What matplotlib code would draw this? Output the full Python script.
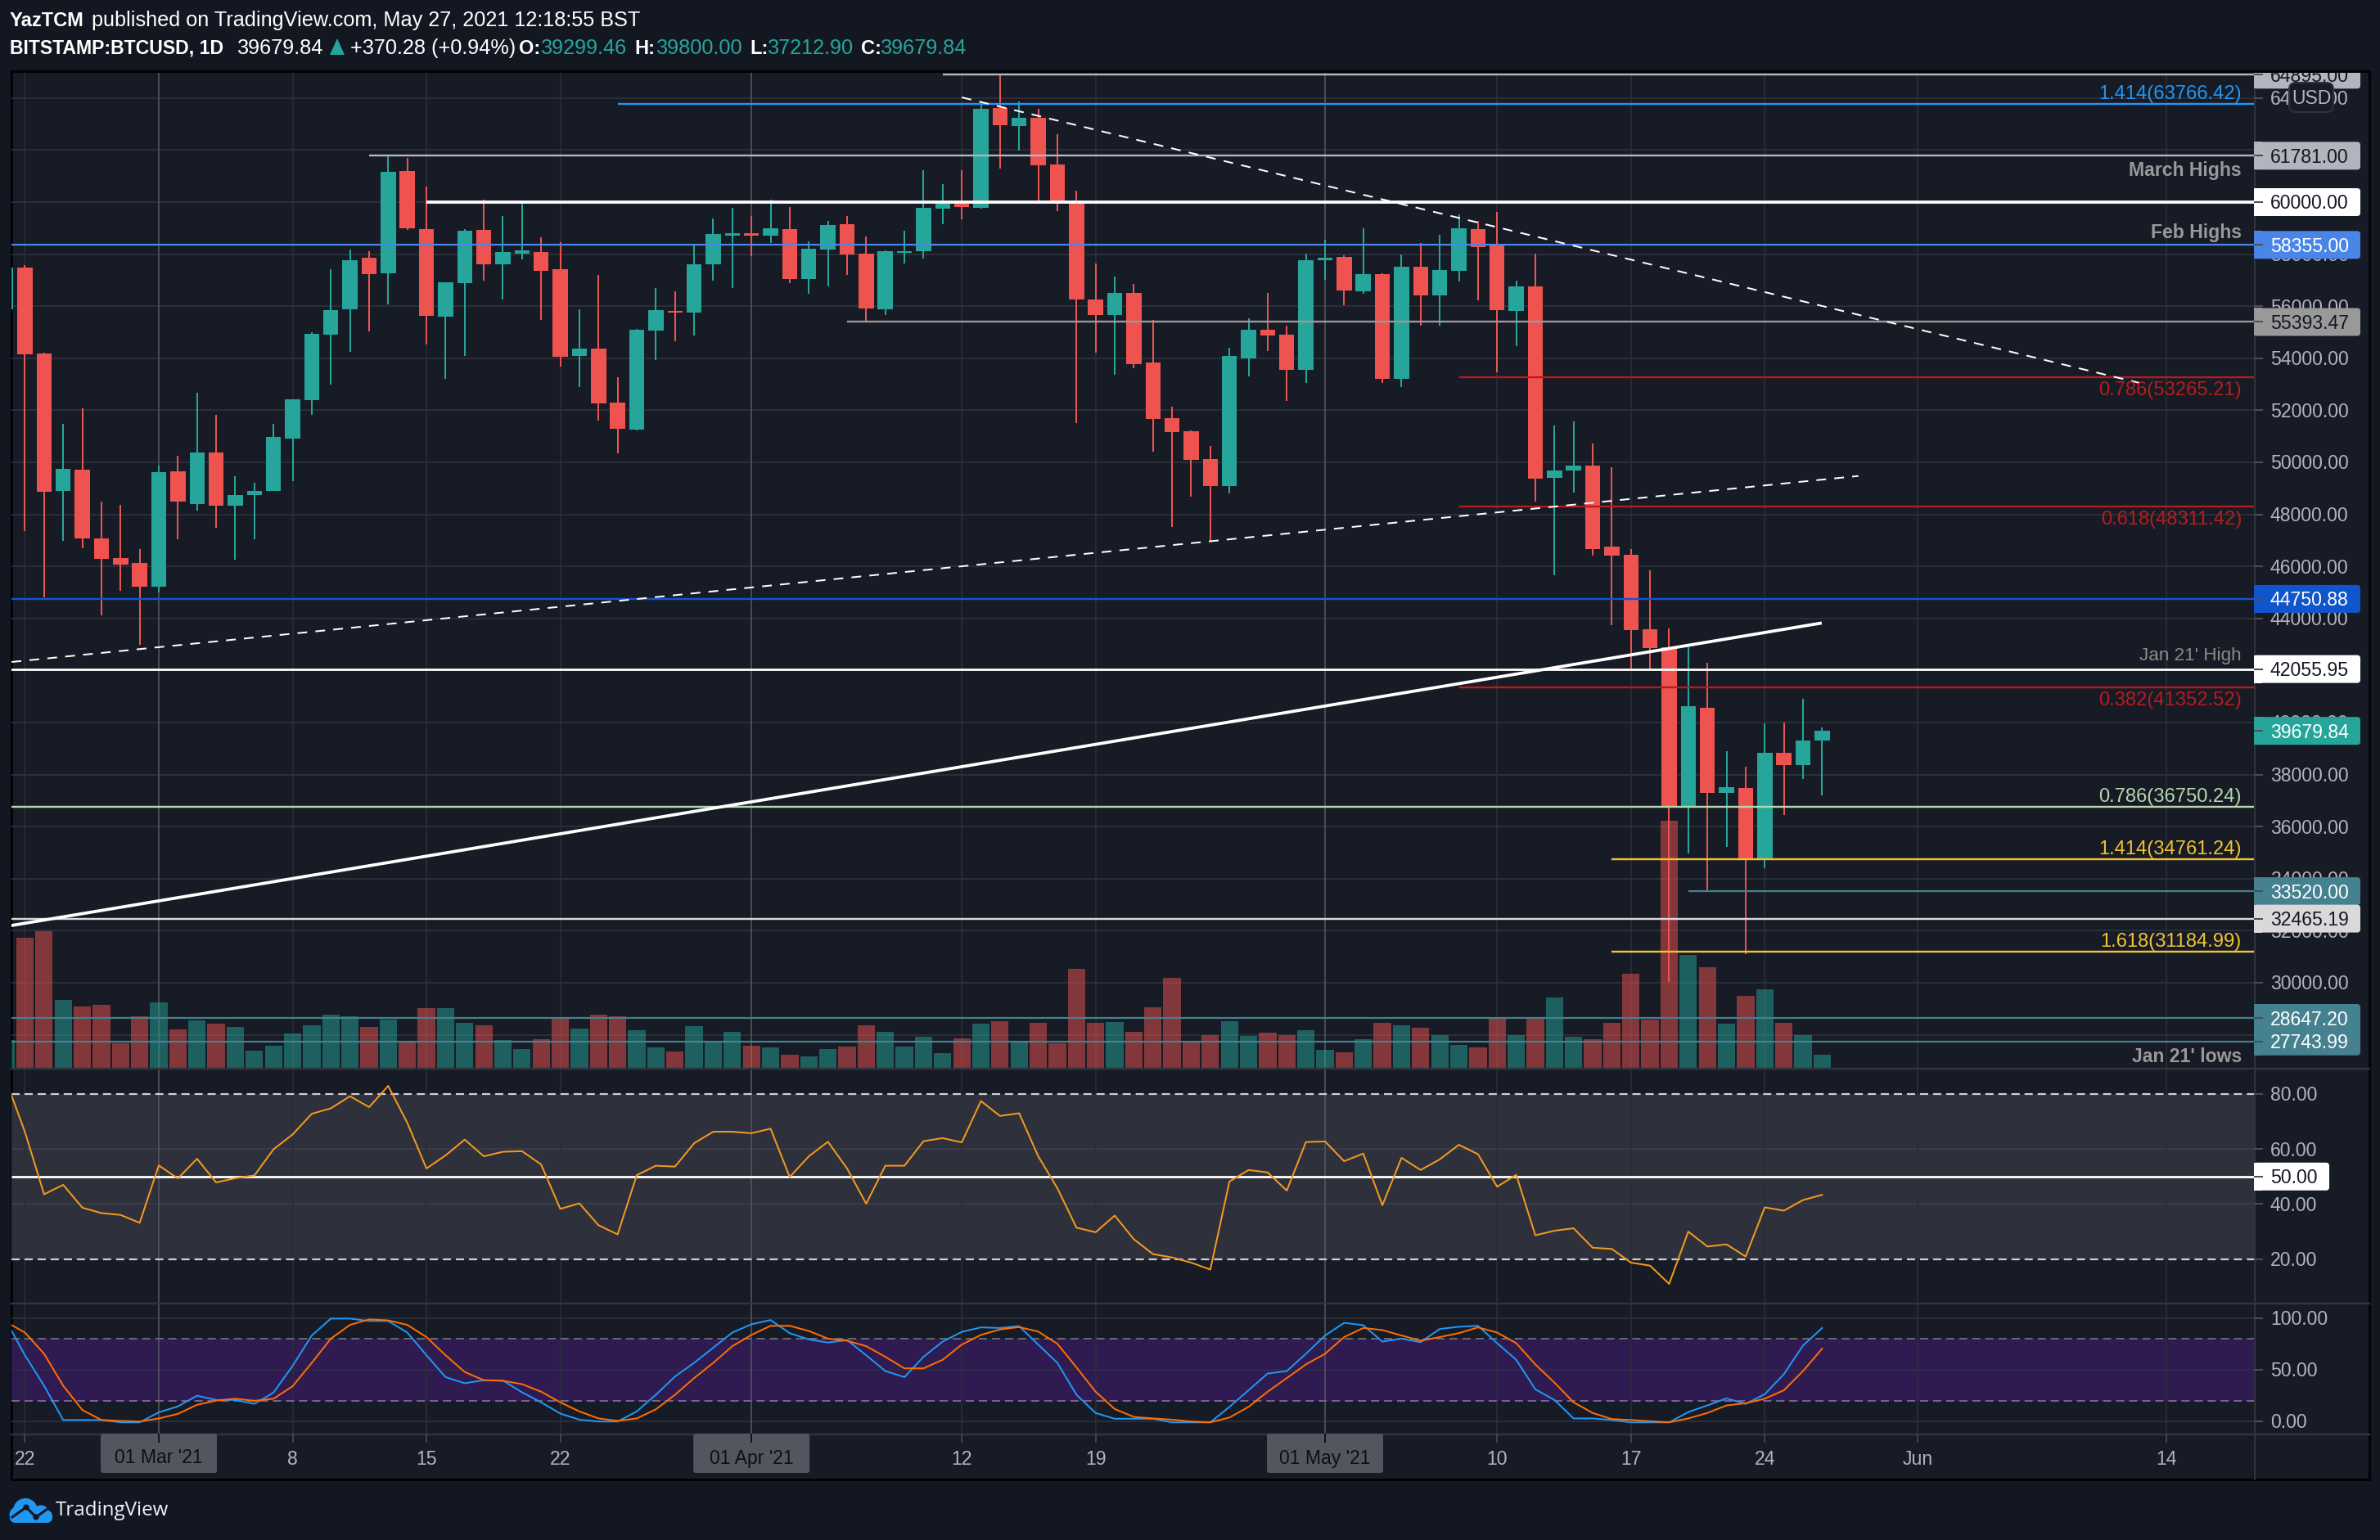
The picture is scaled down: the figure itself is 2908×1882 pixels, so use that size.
import numpy as np
import matplotlib
matplotlib.use("Agg")
import matplotlib.pyplot as plt
from matplotlib.patches import Rectangle, FancyBboxPatch, Polygon, Ellipse, Circle

plt.rcParams['font.family'] = ['Liberation Sans', 'DejaVu Sans']
plt.rcParams['lines.scale_dashes'] = False

# days are counted from 22 Feb 2021
days = np.arange(-1, 95)

opens = [55872, 57487, 54173, 48894, 49709, 47069, 46311, 46128, 45220, 49652, 48389, 50369, 48333, 48740, 48894, 50902,
         52390, 54903, 55872, 57852, 57262, 61193, 58961, 55591, 56883, 58933, 57599, 58020, 58076, 57416, 54089, 54370,
         52292, 51253, 55058, 55816, 55746, 57599, 58708, 58807, 58708, 58961, 57037, 58175, 59143, 58020, 55872, 58048,
         58105, 59747, 59944, 59775, 63608, 62920, 63229, 61446, 59972, 56251, 55662, 56504, 53836, 51688, 51197, 50116,
         49077, 53991, 55086, 54903, 53556, 57768, 57894, 56574, 57234, 53219, 57515, 56420, 57360, 58961, 58329, 55816,
         56757, 49400, 49681, 49863, 46760, 46437, 43580, 42896, 36781, 40572, 37303, 37489, 34754, 38844, 38371, 39299.46]
highs = [57600, 57571, 54215, 51478, 52067, 48487, 48361, 46662, 49863, 50242, 52671, 51815, 49456, 49203, 51478, 52418,
         54988, 57416, 58175, 58105, 61769, 61699, 60590, 56925, 58961, 60084, 59466, 59944, 58638, 58456, 55872, 57192,
         53261, 55114, 56700, 56574, 58357, 59382, 59789, 59480, 60084, 59803, 58498, 59270, 59480, 58680, 58147, 58891,
         61221, 60688, 61221, 63833, 64886, 63861, 63580, 62611, 60435, 57641, 57136, 56855, 55479, 52138, 51225, 50621,
         54398, 55535, 56504, 55240, 58020, 58554, 57964, 58989, 57276, 57978, 58428, 58736, 59537, 59284, 59621, 56981,
         58020, 51407, 51562, 50719, 49807, 46662, 45862, 43617, 42896, 42299, 38906, 38309, 39975, 40000, 40920, 39800]
lows = [55700, 47364, 44823, 46985, 46704, 44127, 45047, 42996, 45009, 47041, 48136, 47476, 46255, 47041, 48894, 49288,
        51815, 52980, 54244, 55016, 56069, 58933, 54538, 53219, 54103, 56981, 56251, 57796, 55479, 53682, 52882, 51604,
        50355, 51225, 53935, 54665, 54889, 56981, 56700, 57936, 58428, 56883, 56462, 56771, 57192, 55437, 55662, 57655,
        57824, 59143, 59340, 59747, 61292, 61980, 60042, 59649, 51506, 54215, 53359, 53612, 50411, 47504, 48669, 46957,
        48810, 53303, 54286, 52348, 53050, 57023, 56027, 56490, 53050, 52882, 55240, 55240, 56953, 56237, 53471, 54454,
        48487, 45656, 48838, 46409, 43741, 42051, 42001, 30031, 34978, 33536, 35227, 31087, 34406, 36457, 37837, 37212.90]
closes = [57487, 54145, 48866, 49737, 47083, 46283, 46059, 45220, 49624, 48487, 50369, 48333, 48740, 48894, 50972, 52418,
          54931, 55844, 57768, 57234, 61165, 58989, 55619, 56925, 58891, 57599, 58076, 58147, 57360, 54047, 54370, 52264,
          51281, 55086, 55844, 55746, 57599, 58764, 58807, 58708, 58989, 57037, 58203, 59115, 57978, 55914, 58105, 58105,
          59775, 59944, 59803, 63580, 62948, 63229, 61418, 60000, 56251, 55662, 56504, 53766, 51660, 51155, 50088, 49077,
          54089, 55086, 54875, 53556, 57768, 57852, 56602, 57234, 53219, 57515, 56420, 57388, 58989, 58273, 55858, 56757,
          49372, 49681, 49863, 46662, 46409, 43555, 42859, 36781, 40634, 37303, 37514, 34705, 38844, 38371, 39316, 39679.84]
volumes = [86, 402, 422, 210, 190, 195, 77, 159, 202, 119, 147, 137, 126, 53, 68, 106,
           131, 164, 159, 126, 149, 80, 185, 185, 139, 131, 86, 58, 88, 154, 121, 164,
           159, 116, 63, 51, 129, 83, 111, 68, 63, 40, 35, 58, 66, 131, 111, 66,
           96, 45, 91, 137, 144, 83, 139, 77, 306, 139, 142, 111, 187, 278, 78, 101,
           144, 99, 109, 101, 116, 56, 48, 88, 139, 131, 124, 101, 71, 63, 152, 101,
           152, 217, 96, 88, 139, 291, 149, 766, 349, 311, 137, 222, 243, 139, 101, 40]
rsi = [85.0, 66.13, 43.56, 46.97, 38.71, 36.73, 36.07, 33.21, 54.02, 49.28, 56.44, 47.85, 49.39, 50.38, 59.85, 65.25,
       72.73, 74.72, 79.12, 75.16, 82.86, 69.43, 52.92, 57.65, 63.38, 57.32, 58.97, 59.19, 54.35, 38.27, 40.25, 32.33,
       29.02, 50.49, 53.91, 53.58, 62.05, 66.24, 66.24, 65.69, 67.34, 49.83, 57.32, 62.60, 52.92, 40.14, 53.91, 53.91,
       62.82, 63.92, 62.38, 77.36, 71.96, 72.95, 57.32, 45.76, 31.45, 29.79, 35.85, 27.26, 21.87, 20.66, 18.78, 16.25,
       48.18, 52.36, 51.48, 44.88, 62.49, 62.71, 55.56, 58.31, 39.59, 56.77, 52.36, 56.22, 61.50, 58.09, 46.31, 50.60,
       28.69, 30.34, 31.23, 24.18, 23.74, 18.78, 17.68, 11.08, 30.01, 24.62, 25.39, 20.99, 38.82, 37.61, 41.47, 43.34]
stoch_k = [97.7, 63.9, 34.4, 1.2, 1.2, 1.2, -1.1, -1.1, 8.6, 14.4, 24.7, 20.6, 20.6, 16.8, 27.7, 53.6,
           83.0, 99.4, 99.4, 97.1, 97.1, 85.9, 63.9, 42.7, 36.8, 39.7, 39.4, 28.0, 18.3, 7.4, 1.5, -0.3,
           -0.3, 9.5, 25.6, 43.3, 56.5, 71.2, 85.9, 93.9, 98.0, 85.3, 79.2, 76.2, 78.6, 63.9, 48.6, 42.7,
           62.4, 77.1, 86.5, 90.9, 90.3, 92.1, 74.2, 56.5, 25.6, 8.0, 2.4, 2.4, 2.4, -1.1, -1.1, -1.1,
           13.9, 30.0, 46.2, 48.6, 65.3, 83.0, 95.3, 93.0, 77.1, 80.0, 76.5, 89.4, 91.5, 92.4, 75.6, 59.5,
           30.9, 20.6, 2.7, 2.7, 1.2, -1.1, -1.1, -1.1, 8.9, 15.3, 22.1, 16.8, 26.2, 45.6, 73.3, 90.3]
stoch_d = [96.2, 85.9, 65.3, 34.4, 10.9, 1.2, 0.3, -0.3, 2.7, 7.1, 15.9, 20.0, 21.8, 19.8, 21.8, 33.9,
           56.5, 80.0, 93.3, 98.6, 97.7, 93.3, 81.5, 63.9, 47.7, 39.7, 39.2, 35.9, 28.6, 18.3, 9.5, 2.7,
           0.3, 2.7, 11.5, 25.6, 41.8, 56.5, 72.7, 83.6, 92.4, 92.4, 87.4, 80.0, 78.0, 72.7, 62.4, 51.2,
           51.2, 59.5, 74.2, 83.6, 88.9, 91.2, 86.8, 75.0, 52.1, 28.6, 11.8, 4.2, 2.7, 1.5, -0.3, -1.1,
           3.6, 13.9, 28.6, 41.8, 55.0, 65.3, 81.5, 90.3, 88.3, 83.0, 78.0, 81.5, 85.3, 90.9, 85.9, 75.6,
           55.0, 37.4, 18.3, 8.0, 2.1, 1.2, 0.0, -1.1, 2.7, 8.0, 15.3, 17.4, 21.8, 30.0, 48.6, 70.3]

# horizontal levels: price, first day, colour, width in px
level_prices = [64895, 63766.42, 61781, 60000, 58355, 55393.47, 53265.21, 48311.42, 44750.88, 42055.95, 41352.52,
                36750.24, 34761.24, 33520, 32465.19, 31184.99, 28647.20, 27743.99]
level_starts = [48, 31, 18, 21, -1, 43, 75, 75, -1, -1, 75, -1, 83, 87, -1, 83, -1, -1]
level_colors = ['#b2b5be', '#2196f3', '#b2b5be', '#ffffff', '#4a86e8', '#999999', '#b71c1c', '#b71c1c', '#1155cc',
                '#ffffff', '#b71c1c', '#b6d7a8', '#f1c232', '#45818e', '#d9d9d9', '#f1c232', '#45818e', '#45818e']
level_widths = [2.4, 2.4, 2.4, 3.8, 2.2, 2.4, 2.4, 2.4, 2.4, 2.8, 2.4, 2.4, 2.4, 2.2, 2.4, 2.4, 2.2, 2.2]

# boxes on the price scale
box_values = [64895, 61781, 60000, 58355, 55393.47, 44750.88, 42055.95, 39679.84, 33520, 32465.19, 28647.20, 27743.99]
box_labels = ['64895.00', '61781.00', '60000.00', '58355.00', '55393.47', '44750.88', '42055.95', '39679.84',
              '33520.00', '32465.19', '28647.20', '27743.99']
box_colors = ['#b2b5be', '#b2b5be', '#ffffff', '#4a86e8', '#999999', '#1155cc', '#ffffff', '#26a69a',
              '#45818e', '#d9d9d9', '#45818e', '#45818e']
box_text = ['#131722', '#131722', '#131722', '#ffffff', '#131722', '#ffffff', '#131722', '#ffffff',
            '#ffffff', '#131722', '#ffffff', '#ffffff']

# notes inside the price pane: text, pixel row, colour, bold
note_labels = ['1.414(63766.42)', 'March Highs', 'Feb Highs', '0.786(53265.21)', '0.618(48311.42)', "Jan 21' High",
               '0.382(41352.52)', '0.786(36750.24)', '1.414(34761.24)', '1.618(31184.99)', "Jan 21' lows"]
note_rows = [114, 207, 283, 476, 634, 801, 855, 973, 1037, 1150, 1290]
note_colors = ['#2196f3', '#999999', '#999999', '#b71c1c', '#b71c1c', '#8a8a8a', '#b71c1c', '#b6d7a8', '#f1c232',
               '#f1c232', '#999999']
note_bold = [False, True, True, False, False, False, False, False, False, False, True]
note_sizes = [17.1, 16.6, 16.6, 17.1, 17.1, 16.2, 17.1, 17.1, 17.1, 17.1, 16.6]

fall_line_days = [49.0, 110.6]
fall_line_prices = [64025, 53050]
dash_rise_days = [-0.7, 95.9]
dash_rise_prices = [42327, 49475]
thick_rise_days = [-0.7, 93.9]
thick_rise_prices = [32201, 43815]

price_ticks = list(range(64000, 27000, -2000))
rsi_ticks = [80, 60, 40, 20]
stoch_ticks = [100, 50, 0]
time_days = [0, 14, 21, 28, 49, 56, 77, 84, 91, 99, 112]
time_labels = ['22', '8', '15', '22', '12', '19', '10', '17', '24', 'Jun', '14']
month_days = [7, 38, 68]
month_labels = ["01 Mar '21", "01 Apr '21", "01 May '21"]

W, H = 2908, 1882
OUTER = '#131722'
PANEL = '#171b26'
GRID = '#2a2e39'
UP = '#26a69a'
DOWN = '#ef5350'
TICK = '#b2b5be'
LEFT, RIGHT, EDGE = 14, 2755, 2895
TOP, MAIN_B, RSI_B, STOCH_B, BOTTOM = 87, 1306, 1593, 1753, 1808
XLIM = (-0.706, 116.63)
FS = 16.6
HEAD_FS = 18.2
HEAD_BOLD_FS = 17.0


def pane(top, bottom, zorder=2):
    a = fig.add_axes([LEFT / W, 1 - bottom / H, (RIGHT - LEFT) / W, (bottom - top) / H], zorder=zorder)
    a.set_xlim(*XLIM)
    a.patch.set_visible(False)
    a.axis('off')
    return a


def px(v):
    # v is in points on screen, the lines are sized in pixels
    return v * 0.72


fig = plt.figure(figsize=(W / 100, H / 100), dpi=100, facecolor=OUTER)

# pixel layer below everything: the panel and its frame
base = fig.add_axes([0, 0, 1, 1], zorder=0)
base.set_xlim(0, W)
base.set_ylim(H, 0)
base.axis('off')
base.add_patch(Rectangle((LEFT, TOP), EDGE - LEFT, BOTTOM - TOP, fc=PANEL, ec='#020305', lw=px(3)))

ax_price = pane(TOP, MAIN_B, 2)
ax_price.set_ylim(26698, 65031)
ax_vol = pane(TOP, MAIN_B, 3)
ax_vol.set_ylim(-2, 3083)
ax_lines = pane(TOP, MAIN_B, 4)
ax_lines.set_ylim(26698, 65031)
ax_rsi = pane(MAIN_B, RSI_B, 2)
ax_rsi.set_ylim(3.95, 89.1)
ax_stoch = pane(RSI_B, STOCH_B, 2)
ax_stoch.set_ylim(-12.8, 114.0)

# grid
ax_price.hlines(price_ticks, *XLIM, color=GRID, lw=px(2), zorder=0)
ax_rsi.axhspan(20, 80, color='#2e313c', lw=0, zorder=0)
ax_rsi.hlines([60, 40], *XLIM, color='#3a3d48', lw=px(2), zorder=1)
ax_stoch.axhspan(20, 80, color='#2f1b52', lw=0, zorder=0)
ax_stoch.hlines(stoch_ticks, *XLIM, color=GRID, lw=px(2), zorder=1)
for a in (ax_price, ax_rsi, ax_stoch):
    a.vlines(time_days, 0, 1, transform=a.get_xaxis_transform(), color='#2a2e39', lw=px(1.6), zorder=1)
    a.vlines(month_days, 0, 1, transform=a.get_xaxis_transform(), color='#54575f', lw=px(1.6), zorder=1)

# candles and volume
is_up = np.array(closes) >= np.array(opens)
candle_colors = [UP if u else DOWN for u in is_up]
ax_price.vlines(days, lows, highs, color=candle_colors, lw=px(2), zorder=2)
ax_price.bar(days, np.abs(np.array(closes) - np.array(opens)), bottom=np.minimum(opens, closes), width=0.79,
             color=candle_colors, lw=0, zorder=3)
ax_vol.bar(days, volumes, width=0.91, color=candle_colors, alpha=0.5, lw=0)

# levels and trend lines
for price, start, color, width in zip(level_prices, level_starts, level_colors, level_widths):
    ax_lines.hlines(price, start, XLIM[1], color=color, lw=px(width), zorder=2)
ax_lines.plot(fall_line_days, fall_line_prices, color='white', lw=px(2), ls=(0, (8.6, 7.2)), zorder=3)
ax_lines.plot(dash_rise_days, dash_rise_prices, color='white', lw=px(2), ls=(0, (8.6, 7.2)), zorder=3)
ax_lines.plot(thick_rise_days, thick_rise_prices, color='white', lw=px(3.8), zorder=3)

# RSI
ax_rsi.plot(days, rsi, color='#f5991f', lw=px(2), zorder=4)
ax_rsi.hlines([80, 20], *XLIM, color='#d0d0d0', lw=px(2.2), ls=(0, (7.2, 4.3)), zorder=3)
ax_rsi.hlines(50, *XLIM, color='white', lw=px(2.8), zorder=3)

# stochastic
ax_stoch.hlines(80, *XLIM, color='#68686f', lw=px(2), ls=(0, (7.2, 4.3)), zorder=3)
ax_stoch.hlines(20, *XLIM, color='#77608f', lw=px(2), ls=(0, (7.2, 4.3)), zorder=3)
ax_stoch.plot(days, stoch_k, color='#2196f3', lw=px(2), zorder=4)
ax_stoch.plot(days, stoch_d, color='#ff6d00', lw=px(2), zorder=5)

# pixel layer above everything: scales, labels, header
top = fig.add_axes([0, 0, 1, 1], zorder=10)
top.set_xlim(0, W)
top.set_ylim(H, 0)
top.axis('off')


def row(a, value):
    return H - a.transData.transform((0, value))[1]


def col(day):
    return ax_price.transData.transform((day, 0))[0]


def scale_box(y, width, color):
    # rounded on the right, square against the scale border
    top.add_patch(FancyBboxPatch((RIGHT - 1, y - 17), width, 34, boxstyle='round,pad=0,rounding_size=4',
                                 fc=color, ec='none', zorder=3))
    top.add_patch(Rectangle((RIGHT - 1, y - 17), 10, 34, fc=color, ec='none', zorder=3))
    top.plot([RIGHT, RIGHT + 9], [y, y], color='#4a4e59', lw=px(2), zorder=4)


# pane separators and the price scale border
for y in (MAIN_B, RSI_B, STOCH_B):
    top.plot([LEFT, EDGE], [y, y], color='#30343f', lw=px(2.5), zorder=1)
top.plot([RIGHT, RIGHT], [TOP, BOTTOM], color='#30343f', lw=px(2), zorder=1)

# scale ticks
for a, ticks in ((ax_price, price_ticks), (ax_rsi, rsi_ticks), (ax_stoch, stoch_ticks)):
    for value in ticks:
        y = row(a, value)
        top.plot([RIGHT, RIGHT + 9], [y, y], color='#4a4e59', lw=px(2), zorder=1)
        top.text(2774, y + 2, '%.2f' % value, color=TICK, fontsize=FS, va='center', zorder=2)

# boxes on the price scale
for value, label, color, tcolor in zip(box_values, box_labels, box_colors, box_text):
    y = row(ax_price, value)
    scale_box(y, 130, color)
    top.text(2774, y + 2, label, color=tcolor, fontsize=FS, va='center', zorder=4)
y = row(ax_rsi, 50)
scale_box(y, 92, 'white')
top.text(2774, y + 2, '50.00', color='#131722', fontsize=FS, va='center', zorder=4)

# keep the clipped top label inside the pane
top.add_patch(Rectangle((RIGHT - 2, 60), EDGE - RIGHT + 14, TOP - 60, fc=OUTER, ec='none', zorder=5))
top.plot([LEFT, EDGE], [TOP, TOP], color='#020305', lw=px(3), zorder=6)
top.add_patch(FancyBboxPatch((2797, 101), 54, 36, boxstyle='round,pad=0,rounding_size=8',
                             fc='#171b26', ec='#2f333e', lw=px(2), zorder=6))
top.text(2824, 120, 'USD', color='#b2b5be', fontsize=FS, ha='center', va='center', zorder=7)

# notes
for label, y, color, bold, size in zip(note_labels, note_rows, note_colors, note_bold, note_sizes):
    top.text(2739, y + 1, label, color=color, fontsize=size, ha='right', va='center',
             fontweight='bold' if bold else 'normal', zorder=2)

# time scale
for day, label in zip(time_days, time_labels):
    x = col(day)
    top.plot([x, x], [STOCH_B, STOCH_B + 9], color='#4a4e59', lw=px(1.6), zorder=1)
    top.text(x, 1783, label, color=TICK, fontsize=FS, ha='center', va='center', zorder=2)
for day, label in zip(month_days, month_labels):
    x = col(day)
    top.add_patch(FancyBboxPatch((x - 71, STOCH_B - 1), 142, 48, boxstyle='round,pad=0,rounding_size=3',
                                 fc='#53565e', ec='none', zorder=3))
    top.plot([x, x], [STOCH_B, STOCH_B + 9], color='#111111', lw=px(2), zorder=4)
    top.text(x, 1782, label, color='#0d0f14', fontsize=FS, ha='center', va='center', zorder=4)

# header
top.text(12, 25, 'YazTCM', color='white', fontsize=HEAD_BOLD_FS, fontweight='bold', va='center')
top.text(112, 25, 'published on TradingView.com, May 27, 2021 12:18:55 BST', color='white', fontsize=HEAD_FS,
         va='center')
top.text(12, 59, 'BITSTAMP:BTCUSD, 1D', color='white', fontsize=HEAD_BOLD_FS - 0.4, fontweight='bold', va='center')
top.text(290, 59, '39679.84', color='white', fontsize=HEAD_FS, va='center')
top.add_patch(Polygon([[403, 67], [412, 47], [421, 67]], fc=UP, ec='none'))
top.text(428, 59, '+370.28 (+0.94%)', color='white', fontsize=HEAD_FS, va='center')
for x, label in zip([634, 775, 916, 1052], ['O:', 'H:', 'L:', 'C:']):
    top.text(x, 59, label, color='white', fontsize=HEAD_BOLD_FS, fontweight='bold', va='center')
for x, label in zip([661, 802, 938, 1076], ['39299.46', '39800.00', '37212.90', '39679.84']):
    top.text(x, 59, label, color=UP, fontsize=HEAD_FS, va='center')

# logo and footer
logo_blue = '#2196f3'
top.add_patch(FancyBboxPatch((12, 1846), 52, 15, boxstyle='round,pad=0,rounding_size=7', fc=logo_blue, ec='none'))
top.add_patch(Circle((31, 1846), 15, fc=logo_blue, ec='none'))
top.add_patch(Circle((50, 1850), 10.5, fc=logo_blue, ec='none'))
top.add_patch(Circle((21, 1851), 9.5, fc=logo_blue, ec='none'))
top.plot([15, 32, 44, 62], [1854, 1842, 1854, 1841], color=OUTER, lw=px(3))
top.add_patch(Circle((32, 1842), 3.6, fc=OUTER, ec='none', zorder=3))
top.add_patch(Circle((44, 1854), 3.6, fc=OUTER, ec='none', zorder=3))
top.text(68, 1846, 'TradingView', color='#f0f3fa', fontsize=17.4, family='Open Sans', va='center')

fig.savefig('out.png', dpi=100, facecolor=OUTER)
